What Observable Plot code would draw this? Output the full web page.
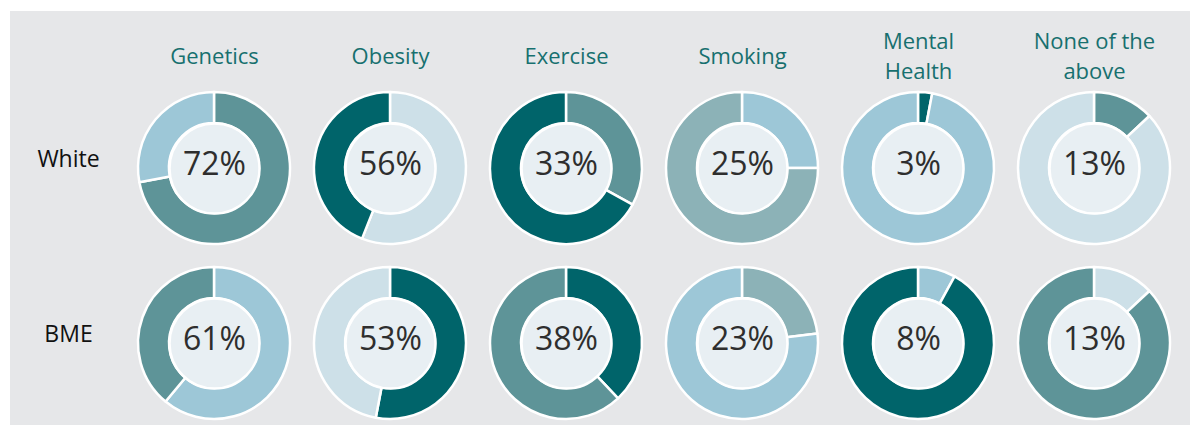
<!DOCTYPE html>
<html>
<head>
<meta charset="utf-8">
<script src="https://cdn.jsdelivr.net/npm/d3@7"></script>
<script src="https://cdn.jsdelivr.net/npm/@observablehq/plot@0.6"></script>
<style>
  html, body { margin: 0; padding: 0; background: #ffffff; }
  #wrap { position: relative; width: 1195px; height: 425px; overflow: hidden; }
  #panel { position: absolute; left: 10px; top: 11px; width: 1180px; height: 414px; background: #e6e7e9; }
  #chart { position: absolute; left: 0; top: 0; }
</style>
</head>
<body>
<div id="wrap"><div id="panel"></div><div id="chart"></div></div>
<script>
// ---- data ----
const columns = ["Genetics", "Obesity", "Exercise", "Smoking", "Mental\nHealth", "None of the\nabove"];
const rows = ["White", "BME"];
const whiteValues = [72, 56, 33, 25, 3, 13];
const bmeValues = [61, 53, 38, 23, 8, 13];

// colours: value segment / remainder segment, per row
const DARK = "#00646a", MID = "#5e9498", LIGHT = "#9dc7d7", PALE = "#cde0e8", GREY = "#8cb2b7";
const whiteValueColors = [MID, PALE, MID, LIGHT, DARK, MID];
const whiteRestColors  = [LIGHT, DARK, DARK, GREY, LIGHT, PALE];
const bmeValueColors   = [LIGHT, DARK, DARK, GREY, LIGHT, PALE];
const bmeRestColors    = [MID, PALE, MID, LIGHT, DARK, MID];

// ---- tables built from the arrays ----
const cells = [];
const segments = [];
function addRow(row, values, valueColors, restColors) {
  values.forEach((v, i) => {
    const col = columns[i];
    cells.push({col, row, value: v});
    segments.push({col, row, start: 0, end: v / 100, fill: valueColors[i]});
    segments.push({col, row, start: v / 100, end: 1, fill: restColors[i]});
  });
}
addRow("White", whiteValues, whiteValueColors, whiteRestColors);
addRow("BME", bmeValues, bmeValueColors, bmeRestColors);

const OUTER = 76, INNER = 45;

function arcRender(index, scales, values) {
  const g = d3.create("svg:g");
  const arc = d3.arc().innerRadius(INNER).outerRadius(OUTER);
  for (const i of index) {
    const d = segments[i];
    g.append("path")
      .attr("transform", `translate(${values.x[i]},${values.y[i]})`)
      .attr("d", arc({startAngle: d.start * 2 * Math.PI, endAngle: d.end * 2 * Math.PI}))
      .attr("fill", d.fill)
      .attr("stroke", "#ffffff")
      .attr("stroke-width", 2.5)
      .attr("stroke-linejoin", "round");
  }
  return g.node();
}

const chart = Plot.plot({
  width: 1195,
  height: 425,
  marginLeft: 213,
  marginRight: 100,
  marginTop: 168,
  marginBottom: 82,
  style: {background: "transparent", fontFamily: "'Open Sans', sans-serif", overflow: "visible"},
  x: {type: "point", domain: columns, padding: 0},
  y: {type: "point", domain: rows, padding: 0},
  marks: [
    Plot.axisX({anchor: "top", tickSize: 0, tickPadding: 114, lineAnchor: "middle", lineHeight: 1.33,
                fontSize: 22, color: "#17706f", label: null}),
    Plot.axisY({anchor: "left", tickSize: 0, tickPadding: 145, textAnchor: "middle", dy: -9,
                fontSize: 23, color: "#111111", label: null}),
    Plot.dot(segments, {x: "col", y: "row", render: arcRender}),
    Plot.dot(cells, {x: "col", y: "row", r: INNER, fill: "#e8eff3", stroke: "#ffffff", strokeWidth: 2.5}),
    Plot.text(cells, {x: "col", y: "row", text: d => d.value + "%", fontSize: 32, fill: "#2e2e2e", dy: -4})
  ]
});
document.getElementById("chart").appendChild(chart);
</script>
</body>
</html>
